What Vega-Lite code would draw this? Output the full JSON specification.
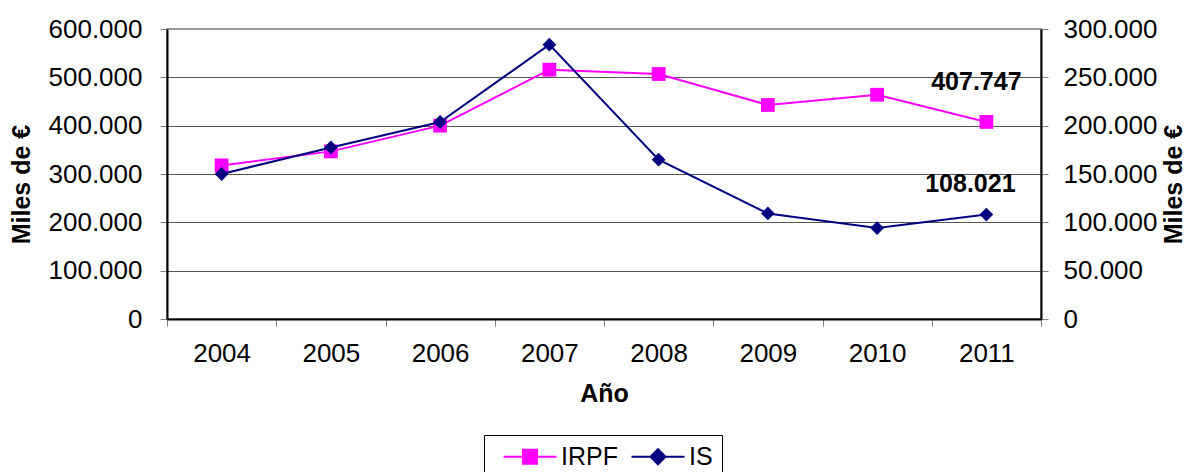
{
  "$schema": "https://vega.github.io/schema/vega-lite/v6.json",
  "width": 874,
  "height": 290,
  "autosize": "none",
  "padding": {"left": 167, "top": 29, "right": 145, "bottom": 153},
  "config": {
    "locale": {"number": {"decimal": ",", "thousands": ".", "grouping": [3], "currency": ["", " €"]}},
    "font": "Liberation Sans",
    "view": {"stroke": "#999999", "strokeWidth": 2},
    "axis": {
      "labelFont": "Liberation Sans", "labelFontSize": 26, "labelColor": "#000000",
      "titleFont": "Liberation Sans", "titleFontSize": 25, "titleFontWeight": "bold", "titleColor": "#000000",
      "domainColor": "#000000", "domainWidth": 2, "tickColor": "#808080", "tickSize": 7, "tickWidth": 1
    },
    "legend": {
      "labelFont": "Liberation Sans", "labelFontSize": 25, "labelColor": "#000000",
      "strokeColor": "#000000", "padding": 9, "columnPadding": 3,
      "labelOffset": 43, "symbolSize": 400, "symbolStrokeWidth": 2
    }
  },
  "data": {
    "values": [
      {"year": "2004", "serie": "IRPF", "value": 317800},
      {"year": "2005", "serie": "IRPF", "value": 346800},
      {"year": "2006", "serie": "IRPF", "value": 400000},
      {"year": "2007", "serie": "IRPF", "value": 515800},
      {"year": "2008", "serie": "IRPF", "value": 506900},
      {"year": "2009", "serie": "IRPF", "value": 442800},
      {"year": "2010", "serie": "IRPF", "value": 464000},
      {"year": "2011", "serie": "IRPF", "value": 407747},
      {"year": "2004", "serie": "IS", "value": 150000},
      {"year": "2005", "serie": "IS", "value": 177500},
      {"year": "2006", "serie": "IS", "value": 203800},
      {"year": "2007", "serie": "IS", "value": 283800},
      {"year": "2008", "serie": "IS", "value": 164800},
      {"year": "2009", "serie": "IS", "value": 109200},
      {"year": "2010", "serie": "IS", "value": 94100},
      {"year": "2011", "serie": "IS", "value": 108021}
    ]
  },
  "encoding": {
    "x": {
      "field": "year", "type": "ordinal", "bandPosition": 0.5,
      "scale": {"type": "band", "paddingInner": 0, "paddingOuter": 0},
      "axis": {"title": "Año", "labelAngle": 0, "tickBand": "extent", "labelPadding": 14, "titlePadding": 15, "grid": false}
    }
  },
  "layer": [
    {
      "transform": [{"filter": "datum.serie === 'IRPF'"}],
      "encoding": {
        "y": {
          "field": "value", "type": "quantitative",
          "scale": {"domain": [0, 600000], "nice": false},
          "axis": {
            "orient": "left", "title": "Miles de €", "format": ",.0f",
            "values": [0, 100000, 200000, 300000, 400000, 500000, 600000],
            "grid": true,
            "gridColor": {"condition": {"test": "datum.value === 600000", "value": "#999999"}, "value": "#555555"},
            "labelPadding": 18, "titlePadding": 14, "titleY": 155
          }
        }
      },
      "layer": [
        {
          "mark": {"type": "line", "strokeWidth": 2, "point": {"shape": "square", "size": 190, "filled": true}},
          "encoding": {
            "color": {
              "field": "serie", "type": "nominal",
              "scale": {"domain": ["IRPF", "IS"], "range": ["#ff00ff", "#000080"]},
              "legend": {
                "title": null, "orient": "none", "legendX": 317, "legendY": 406, "direction": "horizontal",
                "encode": {
                  "symbols": {
                    "update": {
                      "shape": {"signal": "datum.value === 'IRPF' ? 'M-0.2,0H5.1M1.75,-0.7H3.15V0.7H1.75Z' : 'M-0.2,0H5.1M1.7,0L2.45,-0.75L3.2,0L2.45,0.75Z'"},
                      "fill": {"signal": "datum.value === 'IRPF' ? '#ff00ff' : '#000080'"},
                      "stroke": {"signal": "datum.value === 'IRPF' ? '#ff00ff' : '#000080'"},
                      "strokeWidth": {"value": 2},
                      "opacity": {"value": 1}
                    }
                  }
                }
              }
            }
          }
        },
        {
          "transform": [{"filter": "datum.year === '2011'"}],
          "mark": {"type": "text", "font": "Liberation Sans", "fontWeight": "bold", "fontSize": 25, "dx": -10, "dy": -32, "baseline": "alphabetic", "align": "center", "color": "#000000"},
          "encoding": {"text": {"field": "value", "type": "quantitative", "format": ",.0f"}}
        }
      ]
    },
    {
      "transform": [{"filter": "datum.serie === 'IS'"}],
      "encoding": {
        "y": {
          "field": "value", "type": "quantitative",
          "scale": {"domain": [0, 300000], "nice": false},
          "axis": {
            "orient": "right", "title": "Miles de €", "format": ",.0f",
            "values": [0, 50000, 100000, 150000, 200000, 250000, 300000],
            "grid": false, "labelPadding": 15, "titlePadding": 30, "titleAngle": -90, "titleY": 155
          }
        }
      },
      "layer": [
        {
          "mark": {"type": "line", "strokeWidth": 2, "point": {"shape": "diamond", "size": 190, "filled": true}},
          "encoding": {
            "color": {
              "field": "serie", "type": "nominal",
              "scale": {"domain": ["IRPF", "IS"], "range": ["#ff00ff", "#000080"]}
            }
          }
        },
        {
          "transform": [{"filter": "datum.year === '2011'"}],
          "mark": {"type": "text", "font": "Liberation Sans", "fontWeight": "bold", "fontSize": 25, "dx": -16, "dy": -23, "baseline": "alphabetic", "align": "center", "color": "#000000"},
          "encoding": {"text": {"field": "value", "type": "quantitative", "format": ",.0f"}}
        }
      ]
    }
  ],
  "resolve": {"scale": {"y": "independent"}}
}
